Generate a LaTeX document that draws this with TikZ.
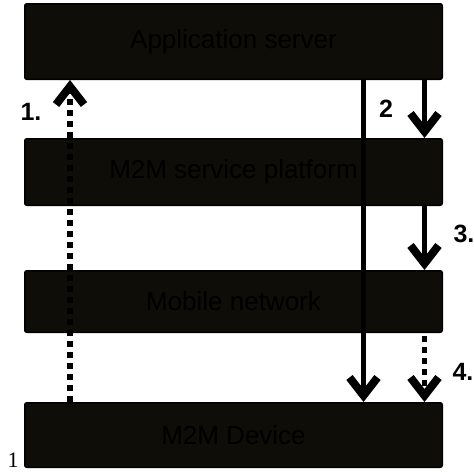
\documentclass[tikz,border=0pt]{standalone}
\usepackage{fontspec}
\setmainfont{Liberation Sans}
\newfontfamily\serifnum{Liberation Serif}
\usepackage{tikz}
\usetikzlibrary{arrows.meta}
\definecolor{boxfill}{RGB}{15,13,7}

\begin{document}
\begin{tikzpicture}[x=1pt, y=-1pt, every node/.style={font=\fontsize{26}{30}\selectfont}]
\tikzset{layer/.style={draw=black, line width=1.5pt, fill=boxfill, rounded corners=2pt, minimum width=417.5pt, inner sep=0, text=black},
  flow/.style={line width=4.5pt, -{Straight Barb[length=18pt, width=28pt, line width=8pt]}},
  dflow/.style={flow, line width=6pt, dash pattern=on 6pt off 5pt},
  num/.style={font=\fontsize{25}{28}\selectfont\bfseries}}
\useasboundingbox (0,0) rectangle (474,472);
% --- Layers ---
\node[layer, minimum height=75.5pt] (app) at (233.5,41.5) {Application server};
\node[layer, minimum height=66.5pt] (plat) at (233.5,172) {M2M service platform};
\node[layer, minimum height=61.5pt] (mob) at (233.5,301.5) {Mobile network};
\node[layer, minimum height=64.5pt] (dev) at (233.5,435) {M2M Device};
% --- Columns of the flows ---
\coordinate (up) at (70,0);
\coordinate (dn) at (363.5,0);
\coordinate (side) at (424.5,0);
% --- Flows ---
\draw[dflow] (dev.north -| up) -- (app.south -| up);
\draw[flow] (app.south -| dn) -- (dev.north -| dn);
\draw[flow] (app.south -| side) -- (plat.north -| side);
\draw[flow] (plat.south -| side) -- (mob.north -| side);
\draw[dflow, line width=5pt] ([yshift=-3pt]mob.south -| side) -- (dev.north -| side);
% --- Step numbers ---
\node[num] (l1) at (31,112) {1.};
\node[num] (l2) at (386,109) {2};
\node[num, anchor=west] (l3) at (450,234) {3.};
\node[num, anchor=west] (l4) at (449,372) {4.};
\node[font=\serifnum\fontsize{22}{24}\selectfont, anchor=base] (pg) at (13,467) {1};
\end{tikzpicture}
\end{document}
